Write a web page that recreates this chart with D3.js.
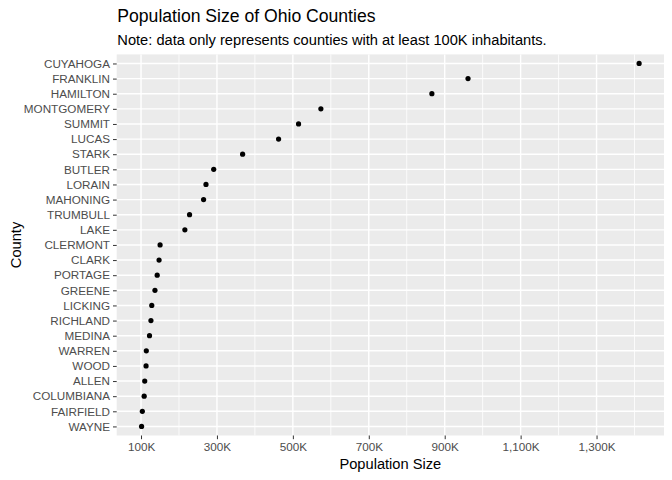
<!DOCTYPE html>
<html>
<head>
<meta charset="utf-8">
<script src="https://cdn.jsdelivr.net/npm/d3@7"></script>
<style>
  html, body { margin: 0; padding: 0; background: #fff; }
  svg { display: block; font-family: "Liberation Sans", Arial, sans-serif; }
</style>
</head>
<body>
<svg id="chart" width="672" height="480"></svg>
<script>
// Data (ggplot2 midwest, Ohio counties with poptotal >= 100K)
const counties = ["CUYAHOGA","FRANKLIN","HAMILTON","MONTGOMERY","SUMMIT","LUCAS","STARK","BUTLER","LORAIN","MAHONING","TRUMBULL","LAKE","CLERMONT","CLARK","PORTAGE","GREENE","LICKING","RICHLAND","MEDINA","WARREN","WOOD","ALLEN","COLUMBIANA","FAIRFIELD","WAYNE"];
const population = [1412140, 961437, 866228, 573809, 514990, 462361, 367585, 291479, 271126, 264806, 227813, 215499, 150187, 147548, 142585, 136731, 128300, 126137, 122354, 113909, 113269, 109755, 108276, 103461, 101461];
const majorBreaks = [100000, 300000, 500000, 700000, 900000, 1100000, 1300000];
const tickLabels = ["100K", "300K", "500K", "700K", "900K", "1,100K", "1,300K"];
const minorBreaks = [200000, 400000, 600000, 800000, 1000000, 1200000, 1400000];
const titleText = "Population Size of Ohio Counties";
const subtitleText = "Note: data only represents counties with at least 100K inhabitants.";
const xTitle = "Population Size";
const yTitle = "County";

const svg = d3.select("#chart");
const panel = { left: 116.7, right: 664, top: 54.4, bottom: 435.5 };

const minV = d3.min(population), maxV = d3.max(population);
const ex = (maxV - minV) * 0.05;
const x = d3.scaleLinear().domain([minV - ex, maxV + ex]).range([panel.left, panel.right]);

// discrete y with 0.6 expansion
const n = counties.length;
const step = (panel.bottom - panel.top) / (n - 1 + 1.2);
const y = d3.scalePoint().domain(counties).range([panel.top + 0.6 * step, panel.bottom - 0.6 * step]);

// panel background
svg.append("rect").attr("x", panel.left).attr("y", panel.top)
  .attr("width", panel.right - panel.left).attr("height", panel.bottom - panel.top)
  .attr("fill", "#EBEBEB");

const grid = svg.append("g");
grid.selectAll("line.minor").data(minorBreaks).join("line")
  .attr("x1", d => x(d)).attr("x2", d => x(d))
  .attr("y1", panel.top).attr("y2", panel.bottom)
  .attr("stroke", "#fff").attr("stroke-width", 0.8);
grid.selectAll("line.majx").data(majorBreaks).join("line")
  .attr("x1", d => x(d)).attr("x2", d => x(d))
  .attr("y1", panel.top).attr("y2", panel.bottom)
  .attr("stroke", "#fff").attr("stroke-width", 1.4);
grid.selectAll("line.majy").data(counties).join("line")
  .attr("x1", panel.left).attr("x2", panel.right)
  .attr("y1", d => y(d)).attr("y2", d => y(d))
  .attr("stroke", "#fff").attr("stroke-width", 1.4);

// axes
const xAxis = d3.axisBottom(x).tickValues(majorBreaks)
  .tickFormat((d, i) => tickLabels[i]).tickSize(3.7).tickPadding(3);
const gx = svg.append("g").attr("transform", `translate(0,${panel.bottom})`).call(xAxis);
gx.select(".domain").remove();
gx.selectAll(".tick line").attr("stroke", "#333").attr("stroke-width", 1);
gx.selectAll(".tick text").attr("fill", "#4D4D4D").style("font-size", "11.7px")
  .style("font-family", "'Liberation Sans', Arial, sans-serif");

const yAxis = d3.axisLeft(y).tickSize(3.7).tickPadding(3);
const gy = svg.append("g").attr("transform", `translate(${panel.left},0)`).call(yAxis);
gy.select(".domain").remove();
gy.selectAll(".tick line").attr("stroke", "#333").attr("stroke-width", 1);
gy.selectAll(".tick text").attr("fill", "#4D4D4D").style("font-size", "11.7px")
  .style("font-family", "'Liberation Sans', Arial, sans-serif");

// points
svg.append("g").selectAll("circle").data(counties).join("circle")
  .attr("cx", (d, i) => x(population[i])).attr("cy", d => y(d))
  .attr("r", 2.6).attr("fill", "#000");

// titles
svg.append("text").attr("x", 117.3).attr("y", 21.7).text(titleText)
  .attr("fill", "#000").style("font-size", "17.6px");
svg.append("text").attr("x", 117.3).attr("y", 45).text(subtitleText)
  .attr("fill", "#000").style("font-size", "14.67px");
svg.append("text").attr("x", (panel.left + panel.right) / 2).attr("y", 469.3)
  .attr("text-anchor", "middle").text(xTitle).attr("fill", "#000").style("font-size", "14.67px");
svg.append("text").attr("transform", `translate(20.7,${(panel.top + panel.bottom) / 2}) rotate(-90)`)
  .attr("text-anchor", "middle").text(yTitle).attr("fill", "#000").style("font-size", "14.67px");
</script>
</body>
</html>
